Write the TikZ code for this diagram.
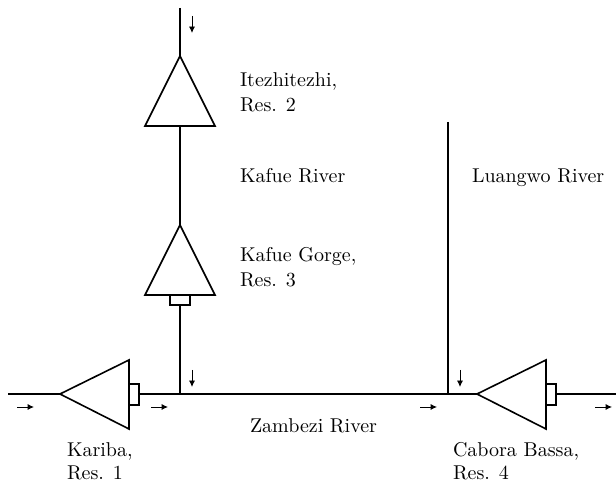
\documentclass[tikz,border=0pt]{standalone}
\usetikzlibrary{arrows.meta}
\tikzset{
  river/.style={line width=0.8pt,line join=miter},
  res/.style={line width=0.8pt,line join=miter},
  flow/.style={line width=0.4pt,-{Latex[length=3.2pt,width=3pt]}},
  lab/.style={anchor=base west,inner sep=0pt,outer sep=0pt,font=\fontsize{10}{12}\selectfont}
}
\begin{document}
\begin{tikzpicture}[x=0.5pt,y=-0.5pt]
\useasboundingbox (0,0) rectangle (616,485);
\coordinate (topend) at (180,8);
\coordinate (apex2) at (180,56);
\coordinate (apex3) at (180,225);
\coordinate (base2) at (180,126);
\coordinate (out3) at (180,305);
\coordinate (junc1) at (180,394);
\coordinate (junc2) at (448,394);
\coordinate (luaend) at (448,122);
\coordinate (leftend) at (8,394);
\coordinate (apex1) at (60,394);
\coordinate (out1) at (139,394);
\coordinate (apex4) at (477,394);
\coordinate (out4) at (556,394);
\coordinate (rightend) at (616,394);
\draw[river] (topend) -- (apex2);
\draw[river] (base2) -- (apex3);
\draw[river] (out3) -- (junc1);
\draw[river] (luaend) -- (junc2);
\draw[river] (leftend) -- (apex1);
\draw[river] (out1) -- (apex4);
\draw[river] (out4) -- (rightend);
\draw[res] (apex2) -- (145,126) -- (215,126) -- cycle;
\draw[res] (apex3) -- (145,295) -- (215,295) -- cycle;
\draw[res] (170,295) rectangle (190,305);
\draw[res] (apex1) -- (129,360) -- (129,429) -- cycle;
\draw[res] (129,384) rectangle (139,405);
\draw[res] (apex4) -- (546,360) -- (546,429) -- cycle;
\draw[res] (546,384) rectangle (556,405);
\draw[flow] (192,16) -- (192,33);
\draw[flow] (192,370) -- (192,387);
\draw[flow] (460,370) -- (460,387);
\draw[flow] (17,407) -- (34,407);
\draw[flow] (151,407) -- (168,407);
\draw[flow] (420,407) -- (437,407);
\draw[flow] (595,407) -- (612,407);
\node[lab] (l2a) at (240,87) {Itezhitezhi,};
\node[lab] (l2b) at (240,112) {Res. 2};
\node[lab] (kr) at (240,183) {Kafue River};
\node[lab] (lr) at (472,183) {Luangwo River};
\node[lab] (l3a) at (240,262) {Kafue Gorge,};
\node[lab] (l3b) at (240,287) {Res. 3};
\node[lab] (zr) at (250,433) {Zambezi River};
\node[lab] (l1a) at (67,457) {Kariba,};
\node[lab] (l1b) at (67,480) {Res. 1};
\node[lab] (l4a) at (453,457) {Cabora Bassa,};
\node[lab] (l4b) at (453,480) {Res. 4};
\end{tikzpicture}
\end{document}
